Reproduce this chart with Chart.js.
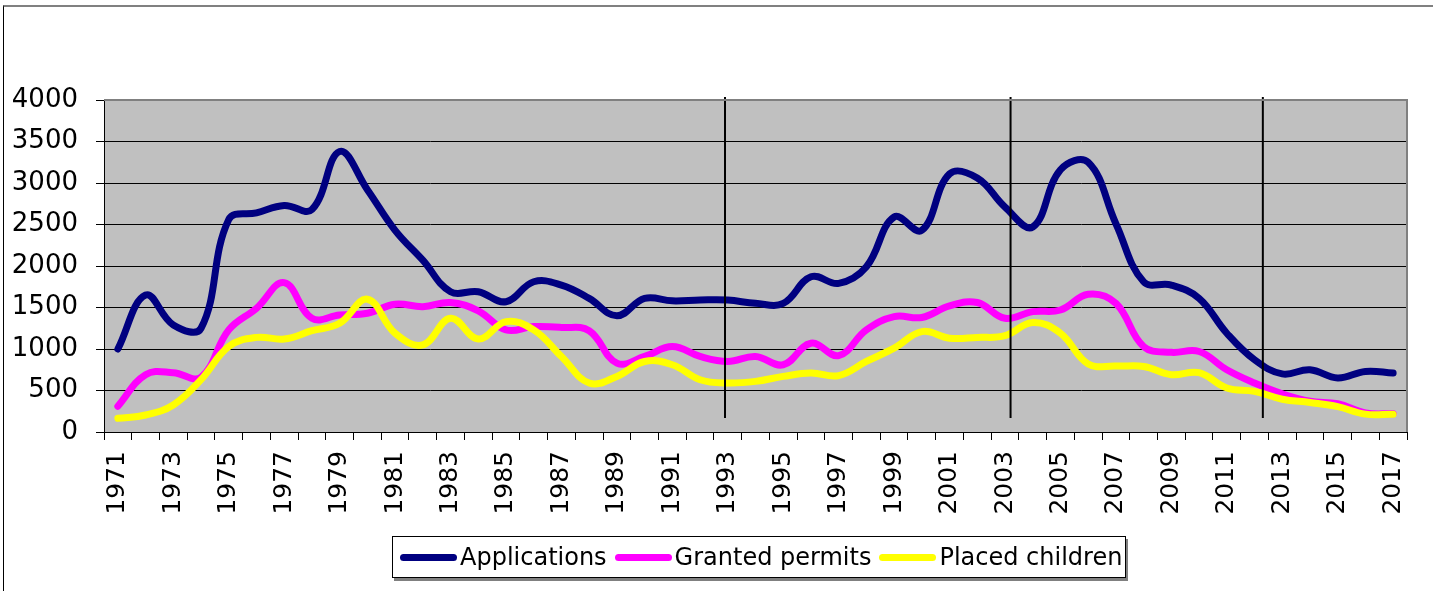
<!DOCTYPE html>
<html>
<head>
<meta charset="utf-8">
<script src="https://cdn.jsdelivr.net/npm/chart.js@4"></script>
<style>
  body { margin: 0; background: #fff; overflow: hidden; }
  #wrap { position: relative; width: 1433px; height: 591px; }
  #frame { position: absolute; left: 3px; top: 5px; width: 1440px; height: 600px;
           border-left: 1px solid #000; border-top: 2px solid #808080; }
  #myChart { position: absolute; left: 0; top: 0; }
  #legend { position: absolute; left: 392px; top: 536px; width: 734px; height: 42px;
            border: 1px solid #000; background: #fff; box-shadow: 2px 3px 0 #808080;
            display: flex; align-items: center; padding-left: 7px; box-sizing: border-box;
            font-family: "DejaVu Sans", sans-serif; font-size: 24px; color: #000; }
  #legend .item { display: flex; align-items: center; margin-right: 8px; white-space: nowrap; }
  #legend .mark { width: 57px; height: 7px; border-radius: 4px; margin-right: 3px; }
</style>
</head>
<body>
<div id="wrap">
  <div id="frame"></div>
  <canvas id="myChart" width="1433" height="591"></canvas>
  <div id="legend"></div>
</div>
<script>
const years = ['1971','1972','1973','1974','1975','1976','1977','1978','1979','1980',
  '1981','1982','1983','1984','1985','1986','1987','1988','1989','1990',
  '1991','1992','1993','1994','1995','1996','1997','1998','1999','2000',
  '2001','2002','2003','2004','2005','2006','2007','2008','2009','2010',
  '2011','2012','2013','2014','2015','2016','2017'];

const applications = [1000,1650,1290,1250,2560,2640,2730,2680,3380,2920,
  2430,2070,1690,1690,1570,1810,1770,1610,1400,1610,
  1580,1590,1590,1550,1550,1870,1790,1990,2590,2430,
  3110,3060,2710,2470,3160,3250,2510,1810,1770,1610,
  1190,870,700,750,650,730,710];

const grantedPermits = [310,690,715,660,1230,1490,1800,1370,1410,1430,
  1540,1510,1560,1460,1230,1270,1260,1220,830,910,
  1030,910,850,910,810,1070,920,1230,1390,1380,
  1520,1560,1370,1450,1470,1660,1550,1030,960,970,
  750,590,460,370,340,230,220];

const placedChildren = [165,205,325,630,1030,1140,1120,1220,1310,1600,
  1190,1050,1370,1120,1330,1230,910,590,670,850,
  810,630,590,610,670,710,680,850,1010,1210,
  1130,1140,1160,1320,1190,820,795,790,690,715,
  530,490,395,355,305,215,215];

const yTicks = [0,500,1000,1500,2000,2500,3000,3500,4000];
// vertical marker lines (year positions, hand placed in the original)
const dividers = [1992.9, 2003.2, 2012.3];

const seriesNames = ['Applications', 'Granted permits', 'Placed children'];
const seriesColors = ['#000080', '#ff00ff', '#ffff00'];

const plotDecor = {
  id: 'plotDecor',
  beforeDraw(chart) {
    const { ctx, chartArea: a } = chart;
    ctx.save();
    ctx.fillStyle = '#c0c0c0';
    ctx.fillRect(a.left, a.top, a.right - a.left, a.bottom - a.top);
    ctx.restore();
  },
  afterDatasetsDraw(chart) {
    const { ctx, chartArea: a, scales } = chart;
    const x = scales.x, y = scales.y;
    const step = x.getPixelForValue(1) - x.getPixelForValue(0);
    ctx.save();
    ctx.strokeStyle = '#000';
    ctx.lineWidth = 2;
    dividers.forEach((yr) => {
      const px = x.getPixelForValue(0) + (yr - 1971) * step;
      ctx.beginPath();
      ctx.moveTo(px, a.top - 3);
      ctx.lineTo(px, y.getPixelForValue(170));
      ctx.stroke();
    });
    ctx.restore();
  },
  afterDraw(chart) {
    const { ctx, chartArea: a } = chart;
    ctx.save();
    ctx.strokeStyle = '#808080';
    ctx.lineWidth = 2;
    ctx.beginPath();
    ctx.moveTo(a.left, a.top);
    ctx.lineTo(a.right, a.top);
    ctx.lineTo(a.right, a.bottom);
    ctx.stroke();
    ctx.restore();
  }
};

const makeSet = (i, data, order) => ({
  label: seriesNames[i],
  data: data,
  borderColor: seriesColors[i],
  backgroundColor: seriesColors[i],
  borderWidth: 7,
  borderCapStyle: 'round',
  borderJoinStyle: 'round',
  pointRadius: 0,
  tension: 0.4,
  fill: false,
  order: order
});

var ctx = document.getElementById('myChart').getContext('2d');
var chart = new Chart(ctx, {
  type: 'line',
  data: {
    labels: years,
    datasets: [
      makeSet(0, applications, 2),
      makeSet(1, grantedPermits, 1),
      makeSet(2, placedChildren, 0)
    ]
  },
  options: {
    responsive: false,
    animation: false,
    devicePixelRatio: 1,
    layout: { padding: { top: 100, right: 26, left: 0, bottom: 0 } },
    plugins: { legend: { display: false }, tooltip: { enabled: false } },
    scales: {
      x: {
        offset: true,
        afterFit: (scale) => { scale.height = 159; scale.paddingRight = 0; scale.paddingLeft = 0; },
        grid: { offset: true, drawOnChartArea: false, drawTicks: true, tickLength: 8, color: '#000' },
        border: { display: true, color: '#000', width: 1 },
        ticks: {
          autoSkip: false,
          maxRotation: 90,
          minRotation: 90,
          padding: 11,
          color: '#000',
          font: { family: 'DejaVu Sans', size: 25 },
          callback: (val, idx) => (idx % 2 === 0 ? years[idx] : '')
        }
      },
      y: {
        min: 0,
        max: 4000,
        afterFit: (scale) => { scale.width = 104; },
        afterBuildTicks: (scale) => { scale.ticks = yTicks.map((v) => ({ value: v })); },
        grid: { color: '#000', tickLength: 8, drawTicks: true },
        border: { display: true, color: '#000', width: 1 },
        ticks: {
          padding: 18,
          color: '#000',
          font: { family: 'DejaVu Sans', size: 26 },
          callback: (val) => String(val)
        }
      }
    }
  },
  plugins: [plotDecor]
});

// legend as html, built from the datasets
const legendEl = document.getElementById('legend');
chart.data.datasets.forEach((ds) => {
  const item = document.createElement('div');
  item.className = 'item';
  const mark = document.createElement('span');
  mark.className = 'mark';
  mark.style.background = ds.borderColor;
  const txt = document.createElement('span');
  txt.textContent = ds.label;
  item.appendChild(mark);
  item.appendChild(txt);
  legendEl.appendChild(item);
});
</script>
</body>
</html>
